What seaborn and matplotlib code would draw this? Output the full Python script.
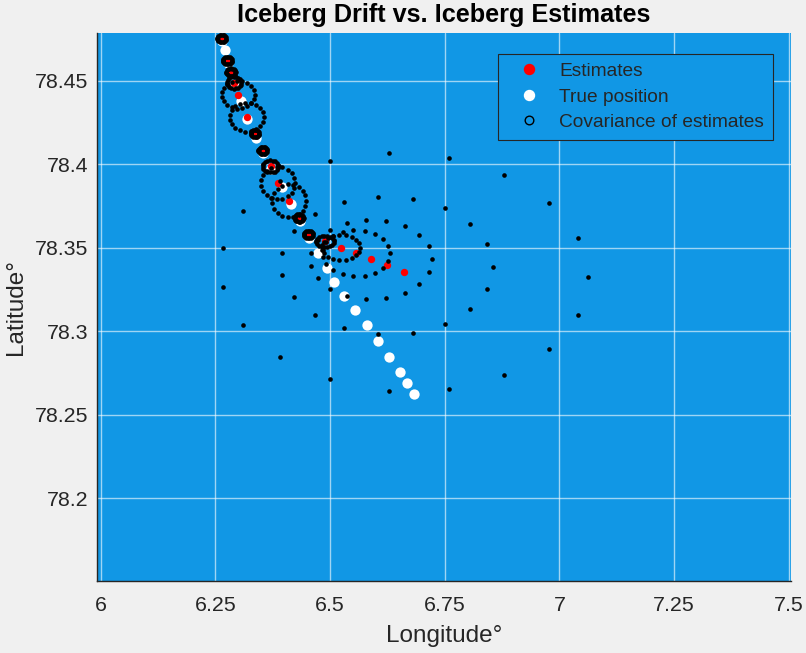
import numpy as np
import pandas as pd
import matplotlib
matplotlib.use("Agg")
import matplotlib.pyplot as plt
import seaborn as sns
from matplotlib.lines import Line2D

# True iceberg track (degrees)
true_lon = [6.2653, 6.2707, 6.2772, 6.2849, 6.2925, 6.3056, 6.3187, 6.3383, 6.3546,
            6.3721, 6.3943, 6.4146, 6.4342, 6.4544, 6.4741, 6.4924, 6.5089, 6.5307,
            6.5540, 6.5795, 6.6048, 6.6288, 6.6521, 6.6680, 6.6833]
true_lat = [78.4740, 78.4687, 78.4609, 78.4543, 78.4474, 78.4376, 78.4271, 78.4160, 78.4068,
            78.3972, 78.3867, 78.3760, 78.3658, 78.3556, 78.3467, 78.3380, 78.3297, 78.3214,
            78.3130, 78.3036, 78.2942, 78.2849, 78.2755, 78.2691, 78.2627]

# Filter estimates (degrees)
est_lon = [6.2635, 6.2757, 6.2838, 6.2910, 6.2997, 6.3180, 6.3361, 6.3529, 6.3703, 6.3869,
           6.4109, 6.4324, 6.4523, 6.4893, 6.5235, 6.5569, 6.5896, 6.6238, 6.6615]
est_lat = [78.4752, 78.4621, 78.4551, 78.4489, 78.4417, 78.4282, 78.4184, 78.4083, 78.3987,
           78.3888, 78.3782, 78.3679, 78.3580, 78.3538, 78.3502, 78.3467, 78.3431, 78.3395,
           78.3355]

# Covariance ellipse of each estimate: semi-axes (deg) and lon/lat correlation
ell_lon_radius = [0.0102, 0.0102, 0.0102, 0.0155, 0.0360, 0.0371, 0.0095, 0.0100, 0.0178,
                  0.0371, 0.0371, 0.0100, 0.0100, 0.0200, 0.0425, 0.0741, 0.1330, 0.2310,
                  0.4000]
ell_lat_radius = [0.0023, 0.0023, 0.0023, 0.0036, 0.0084, 0.0087, 0.0022, 0.0023, 0.0036,
                  0.0096, 0.0099, 0.0023, 0.0023, 0.0034, 0.0075, 0.0138, 0.0239, 0.0413,
                  0.0715]
ell_corr = [0.0, 0.0, 0.0, 0.0, 0.0, 0.0, 0.0, 0.0, 0.0, 0.0,
            0.0, 0.0, 0.0, 0.0, 0.0, 0.0, 0.0, -0.02, -0.04]
n_ellipse_pts = 19

x_ticks = [6, 6.25, 6.5, 6.75, 7, 7.25, 7.5]
x_tick_labels = ["6", "6.25", "6.5", "6.75", "7", "7.25", "7.5"]
y_ticks = [78.2, 78.25, 78.3, 78.35, 78.4, 78.45]
y_tick_labels = ["78.2", "78.25", "78.3", "78.35", "78.4", "78.45"]

true_df = pd.DataFrame({"lon": true_lon, "lat": true_lat})
est_df = pd.DataFrame({"lon": est_lon, "lat": est_lat})

theta = np.linspace(0, 2 * np.pi, n_ellipse_pts, endpoint=False)
ell_parts = []
for cx, cy, rx, ry, r in zip(est_lon, est_lat, ell_lon_radius, ell_lat_radius, ell_corr):
    ex = cx + rx * np.cos(theta)
    ey = cy + ry * (r * np.cos(theta) + np.sqrt(1 - r * r) * np.sin(theta))
    ell_parts.append(pd.DataFrame({"lon": ex, "lat": ey}))
ell_df = pd.concat(ell_parts, ignore_index=True)

sns.set_style("white")
plt.rcParams["font.family"] = ["Liberation Sans", "DejaVu Sans"]

axes_blue = "#1197e5"
ink = "#262626"

fig = plt.figure(figsize=(8.06, 6.53), dpi=100, facecolor="#f0f0f0")
ax = fig.add_axes([0.120, 0.110, 0.862, 0.839])
ax.set_facecolor(axes_blue)

sns.scatterplot(data=true_df, x="lon", y="lat", color="white", s=55, linewidth=0,
                ax=ax, zorder=3)
sns.scatterplot(data=est_df, x="lon", y="lat", color="red", s=28, linewidth=0,
                ax=ax, zorder=4)
sns.scatterplot(data=ell_df, x="lon", y="lat", color="black", s=11, linewidth=0,
                ax=ax, zorder=5)

ax.set_xlim(5.9911, 7.5061)
ax.set_ylim(78.1505, 78.4784)
ax.set_xticks(x_ticks)
ax.set_xticklabels(x_tick_labels)
ax.set_yticks(y_ticks)
ax.set_yticklabels(y_tick_labels)

ax.set_axisbelow(True)
ax.grid(True, color="white", alpha=0.6, linewidth=1.0)
for side in ["top", "right"]:
    ax.spines[side].set_visible(False)
for side in ["left", "bottom"]:
    ax.spines[side].set_color(ink)
    ax.spines[side].set_linewidth(1.0)

ax.tick_params(axis="both", direction="in", length=5, width=0.8, color=ink,
               labelcolor=ink, labelsize=15.4)
ax.tick_params(axis="x", pad=11)
ax.tick_params(axis="y", pad=6)

ax.set_xlabel("Longitude°", fontsize=17.5, color=ink, labelpad=7)
ax.set_ylabel("Latitude°", fontsize=17.5, color=ink, labelpad=6)
ax.set_title("Iceberg Drift vs. Iceberg Estimates", fontsize=18.2, fontweight="bold",
             color="black", pad=8)

handles = [
    Line2D([], [], ls="none", marker="o", markersize=7.2, markerfacecolor="red",
           markeredgecolor="red"),
    Line2D([], [], ls="none", marker="o", markersize=7.2, markerfacecolor="white",
           markeredgecolor="white"),
    Line2D([], [], ls="none", marker="o", markersize=6.2, markerfacecolor="none",
           markeredgecolor="black", markeredgewidth=1.0),
]
labels = ["Estimates", "True position", "Covariance of estimates"]
leg = ax.legend(handles, labels, loc="upper left", bbox_to_anchor=(498 / 806, 1 - 54 / 653),
                bbox_transform=fig.transFigure, borderaxespad=0, fontsize=13.8,
                borderpad=0.45, handlelength=2.3, handletextpad=0.45, labelspacing=0.42,
                fancybox=False, framealpha=1, facecolor=axes_blue, edgecolor=ink)
leg.get_frame().set_linewidth(0.8)

fig.savefig("out.png", dpi=100, facecolor=fig.get_facecolor())
